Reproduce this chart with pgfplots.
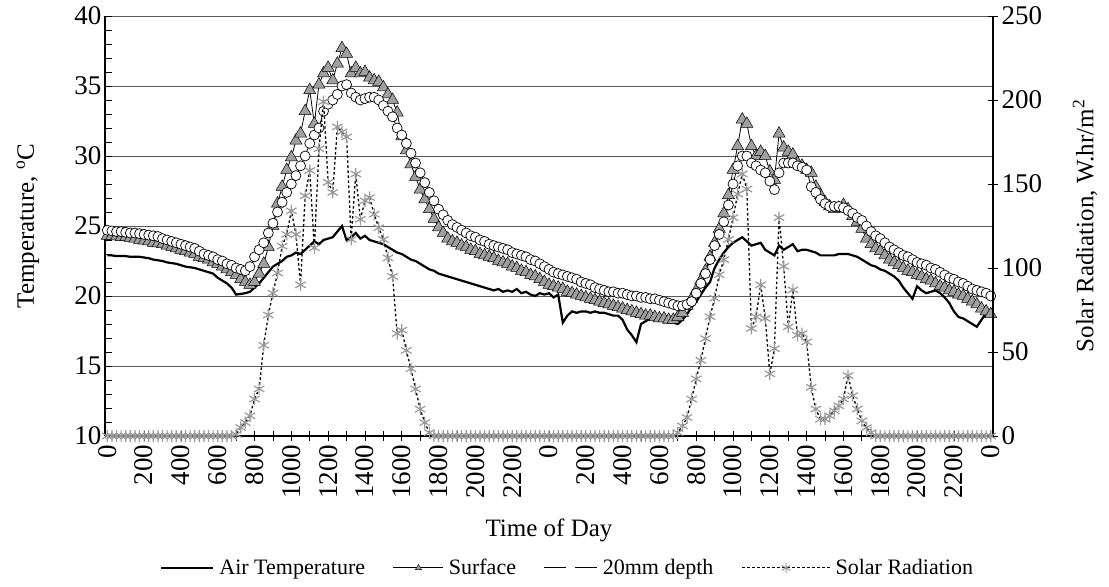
\documentclass[border=0pt]{standalone}
\usepackage{pgfplots}
\pgfplotsset{compat=1.18}
\usepackage{pgfplotstable}
\usepackage{fontspec}
\setmainfont{Liberation Serif}

% 15-minute readings, day 1 00:00 to day 3 00:00 (one line = one hour)
\pgfplotstableread[row sep=\\]{
y\\
22.9\\22.9\\22.85\\22.85\\
22.85\\22.8\\22.8\\22.8\\
22.75\\22.7\\22.6\\22.55\\
22.5\\22.4\\22.35\\22.3\\
22.2\\22.1\\22.05\\22.0\\
21.9\\21.8\\21.7\\21.6\\
21.3\\21.1\\20.9\\20.6\\
20.1\\20.15\\20.2\\20.3\\
20.6\\20.9\\21.3\\21.7\\
22.1\\22.3\\22.5\\22.8\\
22.9\\23.1\\23.0\\23.3\\
23.6\\23.9\\23.7\\24.0\\
24.1\\24.2\\24.6\\25.0\\
24.0\\24.2\\24.5\\24.1\\
24.3\\24.0\\23.9\\23.8\\
23.7\\23.5\\23.3\\23.1\\
23.0\\22.8\\22.6\\22.5\\
22.3\\22.1\\21.9\\21.8\\
21.6\\21.5\\21.4\\21.3\\
21.2\\21.1\\21.0\\20.9\\
20.8\\20.7\\20.6\\20.5\\
20.4\\20.5\\20.3\\20.4\\
20.3\\20.5\\20.2\\20.3\\
20.1\\20.0\\20.2\\20.1\\
20.2\\19.9\\20.1\\18.1\\
18.6\\18.9\\18.8\\18.9\\
18.9\\18.8\\18.9\\18.8\\
18.8\\18.7\\18.6\\18.6\\
18.3\\17.6\\17.2\\16.7\\
18.0\\18.2\\18.4\\18.4\\
18.5\\18.4\\18.3\\18.1\\
18.0\\18.3\\18.7\\19.2\\
19.6\\20.1\\20.6\\21.0\\
22.0\\22.6\\23.1\\23.5\\
23.8\\24.0\\24.2\\23.9\\
23.6\\23.7\\23.8\\23.3\\
23.1\\22.9\\23.6\\23.3\\
23.5\\23.7\\23.2\\23.3\\
23.3\\23.2\\23.1\\22.9\\
22.9\\22.9\\22.9\\23.0\\
23.0\\23.0\\22.9\\22.8\\
22.6\\22.4\\22.2\\22.1\\
21.9\\21.8\\21.6\\21.4\\
21.1\\20.6\\20.2\\19.8\\
20.7\\20.4\\20.2\\20.3\\
20.4\\20.2\\19.9\\19.5\\
18.9\\18.5\\18.4\\18.2\\
18.0\\17.8\\18.3\\18.8\\
19.0\\
}\airT

\pgfplotstableread[row sep=\\]{
y\\
24.3\\24.3\\24.25\\24.2\\
24.2\\24.15\\24.1\\24.0\\
23.95\\23.9\\23.8\\23.75\\
23.7\\23.6\\23.5\\23.4\\
23.3\\23.2\\23.1\\23.0\\
22.8\\22.7\\22.6\\22.4\\
22.3\\22.1\\21.9\\21.7\\
21.5\\21.2\\21.0\\20.8\\
21.0\\21.6\\22.3\\23.5\\
25.0\\26.6\\27.8\\29.0\\
29.9\\31.1\\31.6\\33.2\\
34.7\\32.3\\35.1\\35.9\\
36.3\\35.4\\36.6\\37.7\\
37.3\\35.9\\36.3\\35.9\\
36.0\\35.6\\35.4\\35.3\\
34.9\\34.4\\34.0\\33.1\\
31.4\\30.4\\29.4\\28.5\\
27.6\\26.9\\26.2\\25.5\\
24.9\\24.5\\24.1\\23.9\\
23.8\\23.6\\23.5\\23.3\\
23.2\\23.0\\22.9\\22.8\\
22.7\\22.5\\22.4\\22.3\\
22.1\\22.0\\21.8\\21.7\\
21.5\\21.4\\21.2\\21.0\\
20.8\\20.7\\20.6\\20.5\\
20.3\\20.2\\20.1\\20.0\\
19.9\\19.8\\19.7\\19.6\\
19.5\\19.4\\19.3\\19.2\\
19.1\\19.0\\18.9\\18.8\\
18.7\\18.6\\18.6\\18.5\\
18.4\\18.4\\18.3\\18.3\\
18.5\\18.8\\19.3\\19.8\\
20.4\\21.1\\21.8\\22.8\\
23.8\\24.8\\25.9\\27.2\\
29.0\\30.7\\32.6\\32.3\\
30.7\\30.0\\30.3\\30.0\\
28.9\\28.3\\31.6\\30.6\\
30.3\\30.1\\29.5\\29.3\\
29.0\\28.8\\27.8\\27.2\\
26.7\\26.4\\26.2\\26.3\\
26.5\\26.2\\25.7\\25.3\\
24.8\\24.1\\23.7\\23.4\\
23.2\\22.9\\22.6\\22.4\\
22.2\\22.0\\21.8\\21.7\\
21.5\\21.4\\21.2\\21.1\\
20.9\\20.7\\20.6\\20.4\\
20.3\\20.1\\20.0\\19.8\\
19.6\\19.4\\19.1\\18.9\\
18.7\\
}\surfT

\pgfplotstableread[row sep=\\]{
y\\
24.7\\24.65\\24.6\\24.6\\
24.55\\24.5\\24.5\\24.45\\
24.4\\24.35\\24.3\\24.25\\
24.1\\24.0\\23.9\\23.8\\
23.7\\23.6\\23.5\\23.4\\
23.2\\23.0\\22.9\\22.8\\
22.6\\22.5\\22.3\\22.2\\
22.0\\21.9\\21.8\\22.1\\
22.8\\23.3\\23.8\\24.5\\
25.2\\26.0\\26.7\\27.4\\
28.0\\28.6\\29.3\\30.0\\
30.9\\31.5\\32.0\\33.2\\
33.7\\34.0\\34.4\\35.0\\
35.1\\34.5\\34.2\\34.0\\
34.1\\34.2\\34.2\\34.0\\
33.6\\33.2\\32.8\\32.0\\
31.5\\30.9\\30.2\\29.5\\
28.8\\28.1\\27.4\\26.8\\
26.2\\25.8\\25.4\\25.1\\
24.9\\24.7\\24.5\\24.3\\
24.2\\24.0\\23.9\\23.7\\
23.6\\23.5\\23.4\\23.3\\
23.1\\23.0\\22.9\\22.8\\
22.6\\22.5\\22.3\\22.1\\
21.9\\21.7\\21.6\\21.5\\
21.4\\21.3\\21.2\\21.0\\
20.9\\20.8\\20.6\\20.5\\
20.4\\20.3\\20.3\\20.2\\
20.2\\20.1\\20.0\\20.0\\
19.9\\19.9\\19.8\\19.8\\
19.7\\19.6\\19.5\\19.4\\
19.3\\19.3\\19.4\\19.6\\
20.2\\20.9\\21.6\\22.6\\
23.6\\24.4\\25.3\\26.5\\
28.0\\29.3\\30.0\\30.0\\
29.5\\29.3\\29.0\\28.8\\
28.2\\27.6\\28.8\\29.5\\
29.5\\29.5\\29.3\\29.2\\
29.0\\27.8\\27.4\\26.9\\
26.6\\26.4\\26.4\\26.4\\
26.3\\26.1\\25.9\\25.6\\
25.4\\25.0\\24.6\\24.3\\
24.1\\23.8\\23.5\\23.3\\
23.1\\22.9\\22.8\\22.6\\
22.4\\22.3\\22.2\\22.0\\
21.9\\21.7\\21.5\\21.3\\
21.2\\21.0\\20.9\\20.7\\
20.5\\20.4\\20.3\\20.2\\
20.0\\
}\mmT

\pgfplotstableread[row sep=\\]{
y\\
0\\0\\0\\0\\
0\\0\\0\\0\\
0\\0\\0\\0\\
0\\0\\0\\0\\
0\\0\\0\\0\\
0\\0\\0\\0\\
0\\0\\0\\0\\
1\\5\\8\\12\\
22\\28\\54\\72\\
85\\97\\113\\120\\
134\\120\\90\\143\\
158\\112\\171\\199\\
151\\145\\184\\181\\
178\\117\\156\\129\\
140\\142\\132\\124\\
117\\106\\95\\61\\
63\\51\\40\\28\\
16\\8\\2\\0\\
0\\0\\0\\0\\
0\\0\\0\\0\\
0\\0\\0\\0\\
0\\0\\0\\0\\
0\\0\\0\\0\\
0\\0\\0\\0\\
0\\0\\0\\0\\
0\\0\\0\\0\\
0\\0\\0\\0\\
0\\0\\0\\0\\
0\\0\\0\\0\\
0\\0\\0\\0\\
0\\0\\0\\0\\
2\\6\\11\\22\\
34\\45\\58\\71\\
82\\96\\105\\117\\
130\\144\\156\\147\\
64\\71\\90\\70\\
37\\52\\130\\101\\
65\\87\\60\\61\\
56\\29\\16\\10\\
10\\12\\15\\18\\
22\\36\\24\\16\\
9\\5\\2\\0\\
0\\0\\0\\0\\
0\\0\\0\\0\\
0\\0\\0\\0\\
0\\0\\0\\0\\
0\\0\\0\\0\\
0\\0\\0\\0\\
0\\
}\solarT

\newcommand{\tickfont}{\fontsize{27bp}{31bp}\selectfont}
\newcommand{\labfont}{\fontsize{25bp}{29bp}\selectfont}
\newcommand{\legfont}{\fontsize{22bp}{26bp}\selectfont}

\begin{document}
\begin{tikzpicture}
\path[use as bounding box] (-105bp,-150.3bp) rectangle (1004bp,436bp);
% ---------- left axis: temperatures ----------
\begin{axis}[
  scale only axis, width=888bp, height=420bp,
  xmin=-0.125, xmax=48.125, ymin=10, ymax=40,
  axis x line=none, axis y line*=left,
  ytick={10,15,...,40}, minor y tick num=4,
  ymajorgrids, grid style={black!65, line width=0.8bp},
  tick align=inside, major tick length=7bp, minor tick length=7bp,
  tick style={black, line width=0.8bp},
  axis line style={black, line width=1.2bp},
  tick label style={font=\tickfont},
  /pgf/number format/assume math mode=true,
  ylabel={Temperature, \textsuperscript{o}C},
  ylabel style={font=\labfont, at={(axis description cs:-0.0867,0.5)}, anchor=center},
  clip=false,
]
\addplot[black, line width=2.2bp] table[x expr=\coordindex/4, y=y] {\airT};
\addplot[black, line width=0.8bp, mark=triangle*, mark size=7bp,
  mark options={solid, fill=gray!75, draw=black, line width=0.5bp}]
  table[x expr=\coordindex/4, y=y] {\surfT};
\addplot[black, line width=0.8bp, mark=*, mark size=5bp,
  mark options={solid, fill=white, draw=black, line width=0.7bp}]
  table[x expr=\coordindex/4, y=y] {\mmT};
\end{axis}
% ---------- right axis: solar radiation, x axis, legend ----------
\begin{axis}[
  scale only axis, width=888bp, height=420bp,
  xmin=-0.125, xmax=48.125, ymin=0, ymax=250,
  axis x line*=bottom, axis y line*=right,
  xtick={0,2,...,48},
  xticklabels={0,200,400,600,800,1000,1200,1400,1600,1800,2000,2200,0,200,400,600,800,1000,1200,1400,1600,1800,2000,2200,0},
  minor xtick={1,3,...,47},
  ytick={0,50,...,250},
  tick align=center, major tick length=10bp, minor tick length=10bp,
  tick style={black, line width=0.8bp},
  axis line style={black, line width=1.2bp},
  tick label style={font=\tickfont},
  xticklabel style={rotate=90, anchor=east},
  /pgf/number format/assume math mode=true,
  xlabel={Time of Day},
  xlabel style={font=\labfont, at={(axis description cs:0.5,-0.2245)}, anchor=center},
  ylabel={Solar Radiation, W.hr/m\textsuperscript{2}},
  ylabel style={font=\labfont, at={(axis description cs:1.1036,0.5)}, anchor=center},
  legend style={at={(0.521,-0.314)}, anchor=center, draw=none, fill=none,
    legend columns=4, font=\legfont,
    /tikz/every odd column/.append style={column sep=3bp},
    /tikz/every even column/.append style={column sep=26bp}},
  clip=false,
]
\addlegendimage{legend image code/.code={\draw[black, line width=2.2bp] (0bp,0bp) -- (52bp,0bp);}}
\addlegendentry{Air Temperature}
\addlegendimage{legend image code/.code={\draw[black, line width=0.8bp] (0bp,0bp) -- (50bp,0bp);
  \draw[black, fill=gray!75, line width=0.4bp] plot[mark=triangle*, mark size=3.5bp] coordinates {(25bp,0bp)};}}
\addlegendentry{Surface}
\addlegendimage{legend image code/.code={\draw[black, line width=0.8bp] (0bp,0bp) -- (22bp,0bp) (31bp,0bp) -- (53bp,0bp);}}
\addlegendentry{20mm depth}
\addlegendimage{legend image code/.code={\draw[black, line width=1.2bp, dash pattern=on 2.5bp off 2.5bp] (0bp,0bp) -- (88bp,0bp);
  \draw[black!40, line width=1bp] plot[mark=asterisk, mark size=5bp] coordinates {(44bp,0bp)};}}
\addlegendentry{Solar Radiation}
\addplot[forget plot, black, line width=1.3bp, dash pattern=on 2.5bp off 2.5bp,
  mark=asterisk, mark size=6bp, mark options={solid, draw=black!40, line width=1.2bp}]
  table[x expr=\coordindex/4, y=y] {\solarT};
\end{axis}
\end{tikzpicture}
\end{document}
